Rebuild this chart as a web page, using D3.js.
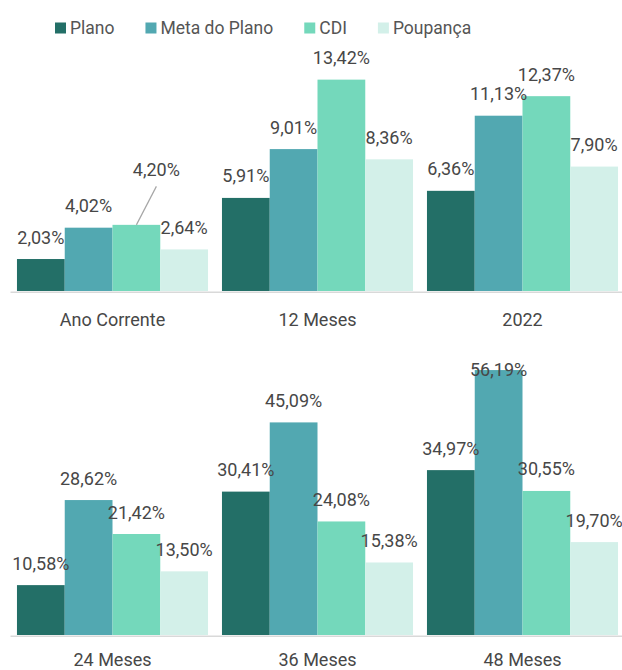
<!DOCTYPE html>
<html>
<head>
<meta charset="utf-8">
<script src="https://cdn.jsdelivr.net/npm/d3@7"></script>
<style>
  html, body { margin: 0; padding: 0; background: #fff; }
  svg { display: block; font-family: Roboto, "Noto Sans", sans-serif; }
</style>
</head>
<body>
<svg id="chart" width="622" height="670"></svg>
<script>
// ---- data ----
const series = ["Plano", "Meta do Plano", "CDI", "Poupança"];
const topCategories = ["Ano Corrente", "12 Meses", "2022"];
const bottomCategories = ["24 Meses", "36 Meses", "48 Meses"];
const plano = [2.03, 5.91, 6.36, 10.58, 30.41, 34.97];
const metaPlano = [4.02, 9.01, 11.13, 28.62, 45.09, 56.19];
const cdi = [4.20, 13.42, 12.37, 21.42, 24.08, 30.55];
const poupanca = [2.64, 8.36, 7.90, 13.50, 15.38, 19.70];

// ---- styles / layout config ----
const colors = ["#236f67", "#52a8b1", "#74d8bb", "#d3f0e9"];
const textColor = "#474747";
const labelNudge = { "Ano Corrente|CDI": [20, -33] }; // label moved with leader line

const allCats = topCategories.concat(bottomCategories);
const rows = allCats.map((c, i) => ({
  cat: c,
  values: [plano[i], metaPlano[i], cdi[i], poupanca[i]]
}));

const svg = d3.select("#chart");
const fmt = v => v.toFixed(2).replace(".", ",") + "%";

// legend
const legend = svg.append("g").attr("class", "legend");
let lx = 55;
series.forEach((s, i) => {
  const g = legend.append("g").attr("transform", `translate(${lx},0)`);
  g.append("rect").attr("x", 0).attr("y", 22.5).attr("width", 11).attr("height", 11).attr("fill", colors[i]);
  const t = g.append("text").attr("x", 15).attr("y", 34).attr("font-size", 17.5)
    .attr("fill", "#555").text(s);
  lx += 15 + t.node().getComputedTextLength() + 31;
});

function panel(cats, baseY, maxV, pxPerUnit, minLabelBaseline, tickPad) {
  const data = rows.filter(r => cats.includes(r.cat));
  const x0 = d3.scaleBand().domain(cats).range([10, 625]).paddingInner(0.068).paddingOuter(0.034);
  const x1 = d3.scaleBand().domain(series).range([0, x0.bandwidth()]).padding(0);
  const y = d3.scaleLinear().domain([0, maxV]).range([baseY, baseY - maxV * pxPerUnit]);

  const g = svg.append("g");
  const groups = g.selectAll("g.grp").data(data).enter().append("g")
    .attr("transform", d => `translate(${x0(d.cat)},0)`);

  groups.selectAll("rect").data(d => d.values.map((v, i) => ({ cat: d.cat, s: series[i], v, i })))
    .enter().append("rect")
    .attr("x", d => x1(d.s))
    .attr("width", x1.bandwidth())
    .attr("y", d => y(d.v))
    .attr("height", d => baseY - y(d.v))
    .attr("fill", d => colors[d.i]);

  groups.selectAll("g.lbl").data(d => d.values.map((v, i) => ({ cat: d.cat, s: series[i], v, i })))
    .enter().append("g").each(function (d) {
      const cx = x1(d.s) + x1.bandwidth() / 2;
      let by = Math.max(y(d.v) - 15.5, minLabelBaseline);
      const n = labelNudge[d.cat + "|" + d.s];
      const sel = d3.select(this);
      let tx = cx;
      if (n) {
        tx = cx + n[0];
        by = by + n[1];
        sel.append("line")
          .attr("x1", tx).attr("y1", by + 10)
          .attr("x2", cx).attr("y2", y(d.v))
          .attr("stroke", "#a6a6a6").attr("stroke-width", 1.2);
      }
      sel.append("text").attr("x", tx).attr("y", by)
        .attr("text-anchor", "middle").attr("font-size", 18)
        .attr("fill", textColor).text(fmt(d.v));
    });

  const axis = d3.axisBottom(x0).tickSize(0).tickSizeOuter(0).tickPadding(tickPad);
  const ag = g.append("g").attr("transform", `translate(0,${baseY + 0.8})`).call(axis);
  ag.select(".domain").attr("stroke", "#d9d9d9").attr("stroke-width", 1.6);
  ag.selectAll("text").attr("font-size", 18).attr("fill", textColor)
    .attr("font-family", "Roboto, 'Noto Sans', sans-serif");
}

panel(topCategories, 291, 14.5, 15.75, 50, 21);
panel(bottomCategories, 635, 60, 4.715, 376, 17);
</script>
</body>
</html>
